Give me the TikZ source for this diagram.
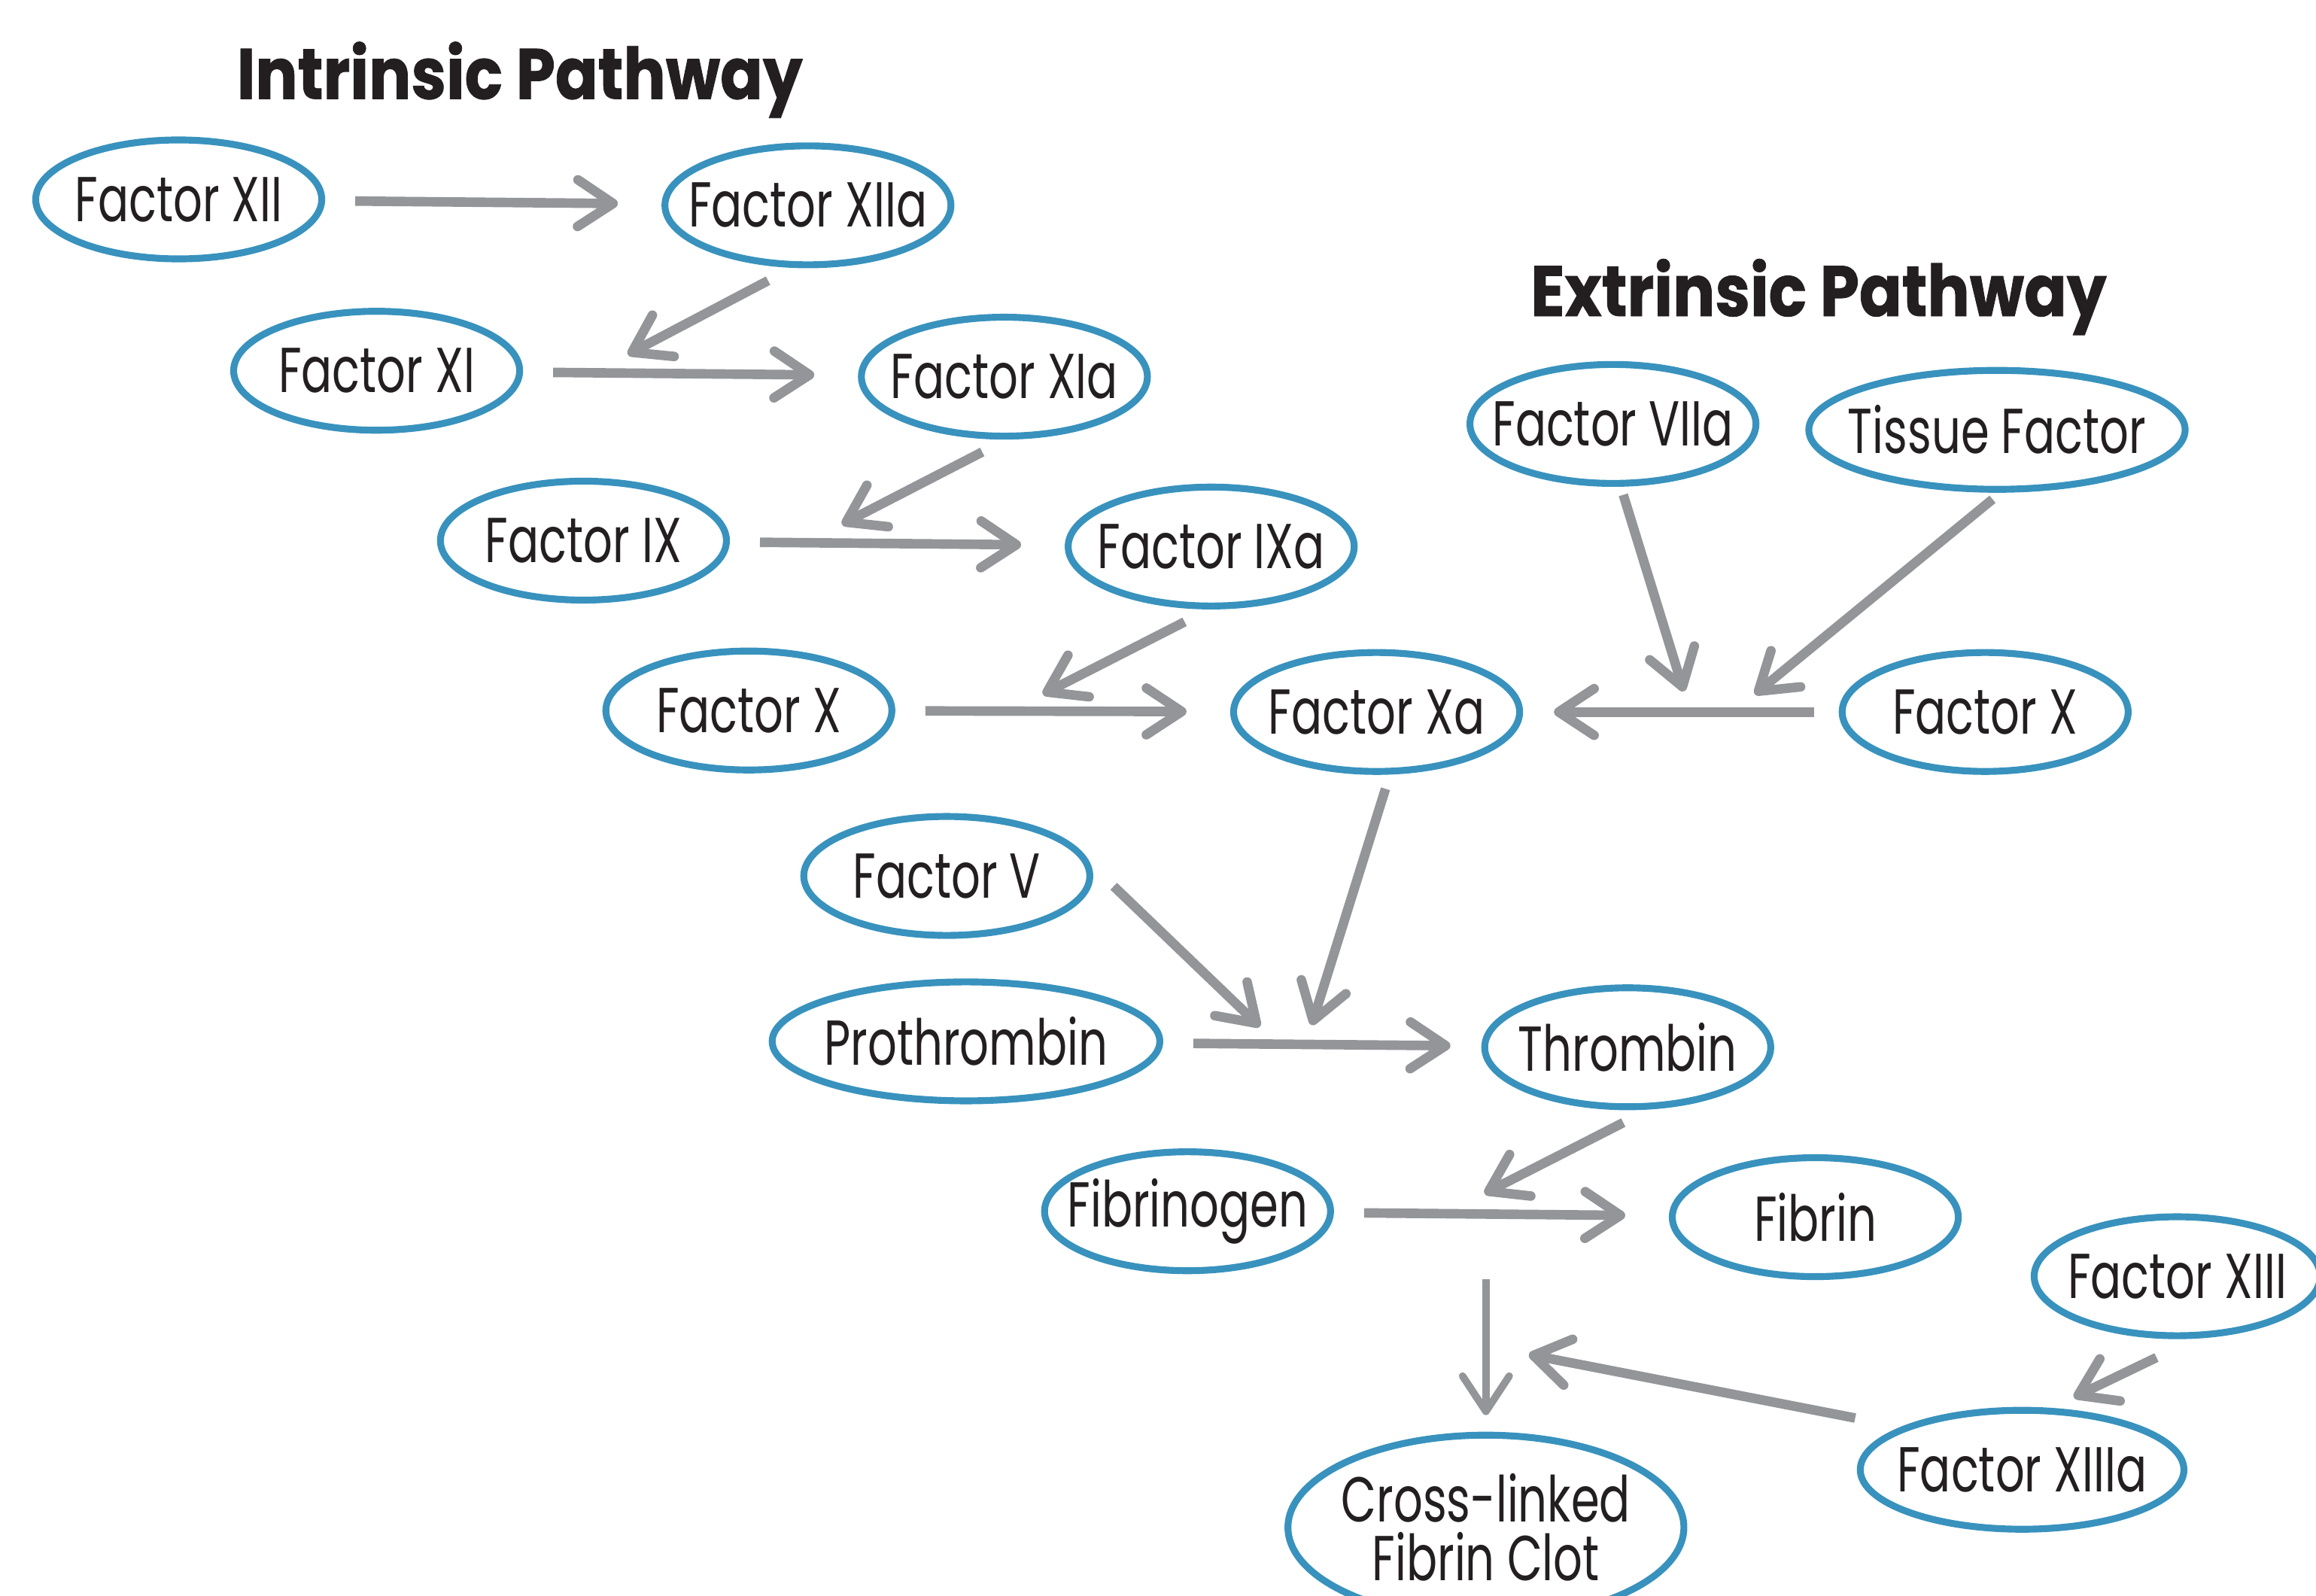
\documentclass[tikz,border=0pt]{standalone}
\usepackage{fontspec}
\setmainfont{Poppins}[FakeStretch=0.72]
\newfontfamily\headfont{Poppins}[FakeStretch=0.88,BoldFeatures={FakeBold=0.8}]
\usetikzlibrary{arrows.meta,positioning,calc,shapes.geometric}

\definecolor{ringblue}{HTML}{3892BD}
\definecolor{arrowgray}{HTML}{939598}
\definecolor{inkblack}{HTML}{231F20}

\begin{document}
\begin{tikzpicture}[x=0.01963cm,y=-0.01963cm,
  factor/.style={ellipse,draw=ringblue,line width=2.6pt,fill=white,minimum width=3.8cm,minimum height=1.58cm,inner xsep=-1cm,inner ysep=0pt,text=inkblack,font=\fontsize{24}{27}\selectfont},
  flow/.style={draw=arrowgray,line width=3.6pt,-{Straight Barb[round,length=0.47cm,width=0.62cm]},shorten <=0.4cm,shorten >=0.58cm},
  act/.style={draw=arrowgray,line width=3.6pt,-{Straight Barb[round,length=0.47cm,width=0.62cm]}},
  heading/.style={font=\headfont\bfseries\fontsize{27}{30}\selectfont,text=inkblack,anchor=base west,inner sep=0pt}]
  \useasboundingbox (0,0) rectangle (1568,1080);

  \node[heading] (intr) at (160,67) {Intrinsic Pathway};
  \node[heading] (extr) at (1036,214) {Extrinsic Pathway};

  % intrinsic cascade
  \node[factor] (xii) at (121,135) {Factor XII};
  \node[factor] (xiia) at (547,139) {Factor XIIa};
  \node[factor] (xi) at (255,251) {Factor XI};
  \node[factor] (xia) at (680,255) {Factor XIa};
  \node[factor] (ix) at (395,366) {Factor IX};
  \node[factor] (ixa) at (820,370) {Factor IXa};
  \node[factor] (x) at (507,481) {Factor X};
  \node[factor] (xa) at (932,482) {Factor Xa};

  % extrinsic side
  \node[factor] (viia) at (1092,287) {Factor VIIa};
  \node[factor,minimum width=5cm] (tf) at (1352,291) {Tissue Factor};
  \node[factor] (xr) at (1344,482) {Factor X};

  % common pathway
  \node[factor] (v) at (641,593) {Factor V};
  \node[factor,minimum width=5.15cm] (pro) at (654,705) {Prothrombin};
  \node[factor] (thr) at (1102,709) {Thrombin};
  \node[factor] (fgn) at (804,820) {Fibrinogen};
  \node[factor] (fib) at (1229,824) {Fibrin};
  \node[factor] (xiii) at (1474,864) {Factor XIII};
  \node[factor,minimum width=4.3cm] (xiiia) at (1369,995) {Factor XIIIa};
  \node[factor,minimum width=5.26cm,minimum height=2.45cm,align=center,font=\fontsize{24}{22}\selectfont] (clot) at (1006,1034) {Cross-linked\\Fibrin Clot};

  \draw[flow] (xii) -- (xiia);
  \draw[flow] (xi) -- (xia);
  \draw[flow] (ix) -- (ixa);
  \draw[flow] (x) -- (xa);
  \draw[flow,shorten <=0.33cm,shorten >=0.41cm] (xr) -- (xa);
  \draw[flow,shorten >=0.41cm] (pro) -- (thr);
  \draw[flow] (fgn) -- (fib);

  \coordinate (k1) at (425,240);
  \coordinate (k2) at (570,355);
  \coordinate (k3) at (706,470);
  \coordinate (k4) at (1140,468);
  \coordinate (k5) at (1188,470);
  \coordinate (k6) at (888,694);
  \coordinate (k7) at (853,695);
  \coordinate (k8) at (1005,808);
  \coordinate (k9) at (1006,866);
  \coordinate (k10) at (1035,917);
  \coordinate (k11) at (1404,946);

  \draw[act] ($(xiia)+(-27,51)$) -- (k1);
  \draw[act] ($(xia)+(-15,51)$) -- (k2);
  \draw[act] ($(ixa)+(-18,51)$) -- (k3);
  \draw[act] ($(viia)+(7,48)$) -- (k4);
  \draw[act] ($(tf)+(-3,47)$) -- (k5);
  \draw[act] ($(xa)+(6,52)$) -- (k6);
  \draw[act] ($(v)+(113,7)$) -- (k7);
  \draw[act] ($(thr)+(-3,51)$) -- (k8);
  \draw[act,line width=2.8pt,shorten >=0.22cm] (k9) -- (clot);
  \draw[act] ($(xiiia)+(-113,-35)$) -- (k10);
  \draw[act] ($(xiii)+(-14,55)$) -- (k11);
\end{tikzpicture}
\end{document}
